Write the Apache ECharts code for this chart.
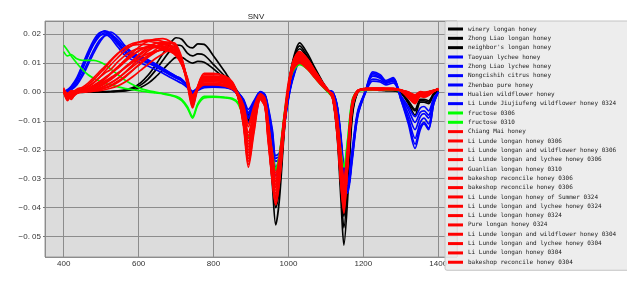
<!DOCTYPE html>
<html>
<head>
<meta charset="utf-8">
<script src="https://cdn.jsdelivr.net/npm/echarts@6/dist/echarts.min.js"></script>
<style>html,body{margin:0;padding:0;background:#fff;}#c{width:627px;height:282px;}</style>
</head>
<body>
<div id="c"></div>
<script>
// wavelength (x) positions shared by all spectra
const wavelengths = [400,410,420,435,450,465,480,495,510,525,
 545,565,585,605,625,645,665,685,700,715,
 730,744,758,775,800,830,850,865,880,893,
 908,925,937,945,957,966,976,988,1000,1012,
 1030,1050,1070,1090,1105,1118,1130,1140,1148,1158,
 1170,1185,1205,1225,1245,1260,1280,1300,1320,1338,
 1352,1362,1374,1388,1400];

// y values are in units of 0.001 (SNV)
const xTickValues = [400,600,800,1000,1200,1400];
const xTickLabels = ['400','600','800','1000','1200','1400'];
const yTickValues = [-50,-40,-30,-20,-10,0,10,20];
const yTickLabels = ['\u22120. 05','\u22120. 04','\u22120. 03','\u22120. 02','\u22120. 01','0. 00','0. 01','0. 02'];

const blackNames = ["winery longan honey","Zhong Liao longan honey","neighbor's longan honey"];
const blackValues = [
[0,-0.5,0.3,0,0,0,0.1,0.1,0.2,0.2, 0.4,0.8,1.6,3.2,5.8,9.3,13.3,17,18.8,18.3, 16,15.3,16.7,16.5,12.5,7,3,0,-3,-8, -4,0,-2,-13,-32,-46,-37,-15,2,11, 17,13.5,8.5,3.8,0.8,-2,-15,-37,-53,-37, -9,0,1,1,0.8,0.6,0.6,0,-3.5,-6.5, -3,-3,-3.5,-0.5,0.5],
[0.2,0,0,0,-0.1,0,0,0.1,0.1,0.2, 0.3,0.6,1.2,2.4,4.5,7.5,11,14.5,16.3,16, 13.5,12.5,13.2,12.8,9.5,5.5,2.2,-0.5,-3.5,-9.5, -5,-0.5,-2.5,-12,-29,-40,-33,-14,1.5,10.5, 16,12.5,8,3.5,0.6,-2,-14,-33,-47,-33, -8,0,1,1,0.8,0.6,0.5,-0.3,-4,-8, -3.5,-3.5,-4,-1,0.5],
[0,0.3,0,0,0,0,0,0,0,0.1, 0.2,0.4,0.8,1.6,3,5.2,7.8,10.5,12,12, 10.8,10,10.6,10.3,8,4.5,1.5,-1,-4,-10, -5.5,-1,-3,-12,-27,-37,-30,-13,1,10, 15,12,7.5,3.2,0.5,-2,-13,-31,-43,-31, -7.5,0,0.8,0.8,0.6,0.5,0.5,-0.2,-3,-6, -2.5,-2.5,-3,-0.5,0.5]
];

const blueNames = ["Taoyuan lychee honey","Zhong Liao lychee honey","Nongcishih citrus honey","Zhenbao pure honey","Hualien wildflower honey","Li Lunde Jiujiufeng wildflower honey 0324"];
const blueValues = [
[0,0.8,2,5,9.5,14,18,20.5,21,19.5, 16.5,13.5,12,11,10,8.8,7.3,5.8,4.8,3.8, 2,-0.5,1,2,2.2,1.8,1,-0.5,-3,-7, -3.5,0,-1,-5,-14,-23,-22,-11,-1.5,5.5, 11,10,6.5,3,0.5,0,-5,-16,-27,-32, -21,-7,0,6.5,5.5,3.5,4.8,-2.5,-11,-19.5, -13,-11,-13,-4,0],
[0.3,0.5,1.5,4,8,12.5,16.5,19.3,20.5,20, 17.3,14.2,12.5,11.5,10.5,9.2,7.8,6.3,5.2,4, 2.2,-0.3,1.2,2.2,2.3,2,1.2,-0.3,-2.5,-6, -3,0.2,-0.8,-4.5,-13,-22,-21,-10,-1,6, 11.5,10,6.5,3,0.7,0,-4.5,-15,-26,-31, -20,-6.5,0.2,6,5,3.5,4.5,-2,-9,-16, -10.5,-9,-11,-3.5,0],
[-0.3,0.3,1,3,6.5,10.5,14.5,17.8,19.5,19.8, 18,15,13,12,11,9.5,8,6.5,5.5,4.3, 2.3,0,1.3,2.3,2.5,2,1.2,-0.5,-3.5,-8.5, -4.5,-0.2,-1.3,-6,-16,-26,-24,-12,-2,5, 10.5,9.5,6,2.5,0.5,0,-5,-17,-29,-34, -23,-8,-0.3,5.5,4.8,3.2,4.2,-1.8,-7.5,-13, -8.5,-7.5,-9,-3,0],
[0,0.2,0.8,2.5,5.5,9.5,13.5,17,19.6,20.8, 19,15.8,13.5,12.3,11.2,9.8,8.2,6.6,5.5,4.5, 2.5,0.3,1.5,2.5,2.6,2.2,1.4,0,-2.8,-7.5, -4,0,-1,-5.5,-15,-24,-23,-11.5,-1.5,5.5, 11,10,6.5,2.8,0.5,0,-5,-16.5,-28,-33, -22,-7.5,0,4.5,4,3,3.8,-1.5,-6,-10.5, -7,-6.5,-8,-2.5,0],
[0.5,0.6,1.8,4.5,9,13.3,17,19.5,20,18.8, 15.5,12.5,11,10,9,7.8,6.5,5,4,3, 1.5,-1,0.5,1.5,1.7,1.5,0.8,-1,-4,-10.5, -5.5,-0.5,-1.8,-7,-18,-29,-26,-13,-2.5,4.5, 10,9,5.5,2.2,0.3,-0.5,-6,-18,-30,-35, -24,-8.5,-0.5,3.8,3.5,2.5,3.2,-1.2,-5,-8.5, -5.5,-5,-6.5,-2,0],
[0,0.4,1.3,3.8,8,12.8,17,20,21.2,20.3, 17,13.8,12.2,11.3,10.2,9,7.5,6,5,4, 2,-0.5,1,2,2.1,1.8,1,-0.5,-3.2,-9, -4.8,-0.3,-1.5,-6.5,-17,-27,-25,-12.5,-2,5, 10.5,9.5,6,2.5,0.4,0,-5.5,-17,-29,-34, -22.5,-7.5,0,7,6,4,5,-2.5,-10,-18, -12,-10.5,-12.5,-4,0]
];

const greenNames = ["fructose 0306","fructose 0310"];
const greenValues = [
[16.2,14.5,12.5,10,7.8,6,4.8,3.8,3,2.5, 1.8,1.2,0.8,0.4,0,-0.3,-0.6,-1.2,-1.8,-3, -5.5,-9,-4.5,-2,-1.8,-2,-2.5,-4,-9,-16, -9,-1.5,-3,-11,-22,-27,-22,-9,1.5,7, 9.5,8,5,2,0,-2,-10,-21,-26,-17, -3,0.3,0.6,0.7,0.7,0.7,0.7,0.5,-0.3,-1.5, -0.3,-0.3,0,0.5,0.8],
[14,12.5,13,11.5,11,11,11,10.5,9.5,8, 6,4,2.5,1.2,0.5,0,-0.5,-1,-1.5,-2.5, -5,-8.5,-4,-1.5,-1.5,-1.8,-2.2,-3.5,-8.5,-15.5, -8.5,-1.2,-2.8,-10.5,-21,-26.5,-21.5,-8.5,2,7.5, 9.8,8.2,5.2,2.2,0.2,-1.8,-9.5,-20.5,-25.5,-16.5, -2.8,0.4,0.7,0.8,0.8,0.8,0.8,0.6,-0.2,-1.3, -0.2,-0.2,0.1,0.6,0.9]
];

const redNames = ["Chiang Mai honey","Li Lunde longan honey 0306","Li Lunde longan and wildflower honey 0306","Li Lunde longan and lychee honey 0306","Guanlian longan honey 0310","bakeshop reconcile honey 0306","bakeshop reconcile honey 0306\u200B","Li Lunde longan honey of Summer 0324","Li Lunde longan and lychee honey 0324","Li Lunde longan honey 0324","Pure longan honey 0324","Li Lunde longan and wildflower honey 0304","Li Lunde longan and lychee honey 0304","Li Lunde longan honey 0304","bakeshop reconcile honey 0304"];
const redValues = [
[0.5,-2,-0.5,1,1.7,3.1,5,7,8.9,11, 13.5,15.3,16.2,16.5,16.4,16,15.4,14.5,13,9.5, 4,-2,1,3.5,3.5,3,1.5,-1.5,-7,-15, -8,-1.5,-3.5,-12,-25,-33,-25,-9,3.5,9, 11.5,9,6,2.5,0.5,-1.5,-11,-26,-34,-21, -3.5,0.5,1,1.2,1,1,1.2,0.8,-0.5,-2, -0.5,-0.5,-0.3,0.5,1],
[0,-1,-2.5,0.5,1.2,2.5,4.2,6.3,8.3,10.6, 13.3,15.6,16.9,17.4,17.5,17.2,16.6,15.5,13.8,10, 3.5,-3.5,1.5,5,5,4.5,2.5,-1.5,-10,-22, -11,-2,-4.5,-14,-29,-37,-29,-12,2,10, 13,10.5,7,3,0.5,-2,-13,-30,-39,-24, -5,0.3,1,1,1.2,1,1,0.5,-1.5,-3, -1,-1.2,-0.8,0.3,1],
[1,-0.5,0,0.5,1,1.9,3.3,5,6.6,7.8, 10.5,12.8,14.4,15.2,15.5,15.4,15,14,12.5,9.5, 4.5,-1.5,1.5,3,3,2.5,1.5,-0.5,-5,-12, -6,-1,-2.5,-10,-22,-29,-23,-10,1.5,8, 10.5,8.5,5.5,2.5,0.5,-1,-9,-22,-31,-20, -4,0.5,1,0.8,0.8,1,0.8,0.6,0,-1.5, 0,-0.2,0,0.6,0.8],
[0,-3,-1,0.3,0.8,1.8,3.2,5,7.2,9.4, 12,14.5,16.4,17.5,18,18,17.5,16.3,14.5,10.5, 3.5,-4.5,2,6,6,5.5,3.5,-1,-11,-25, -13,-2.5,-5,-15,-31,-39,-31,-14,1,10.5, 14,11.5,7.5,3.5,1,-2,-14,-32,-42,-26, -6,0,1.2,1.4,1.3,1.2,1.3,0.5,-1.5,-3.5, -1.5,-1.5,-1,0.3,1.2],
[0.5,-1.5,-0.5,0,0.6,1.3,2.4,3.6,5,6.5, 8.8,11,13,14.6,15.5,16,15.9,15,13.5,10, 4,-2.5,1.5,4,4,3.5,2,-1,-8,-17, -9,-1.5,-3.5,-12,-26,-34,-27,-11,2,9, 12,9.5,6.5,3,0.5,-1.5,-12,-28,-36,-23, -4.5,0.5,0.8,1,1.1,0.9,1,0.7,-0.5,-2, -0.5,-0.7,-0.4,0.4,0.9],
[1,-1,-2,-0.3,0.4,1,2,3.3,4.8,6.3, 8.3,10.6,12.8,14.6,15.9,16.8,17,16.2,14.5,10.5, 4,-3,1.5,4.5,4.5,4,2.5,-1,-9,-20, -10,-2,-4,-13,-28,-36,-28,-11,2.5,9.5, 12.5,10,6.5,3,0.6,-2,-13,-29,-38,-24, -5,0.3,1,1.1,1,1.1,1.1,0.6,-1,-2.5, -1,-1,-0.6,0.4,1],
[0.3,-0.5,0.5,0,0.3,0.8,1.6,2.6,3.8,5, 6.6,8.5,10.4,12,13.3,14.1,14.5,14,12.8,10, 5,-1,1,2.5,2.5,2,1,-0.5,-4.5,-11, -5,-0.5,-2,-9,-21,-28,-22,-9,1,7.5, 10,8,5,2,0.3,-0.5,-8,-21,-30,-19, -3.5,0.5,0.8,0.8,0.7,0.8,0.8,0.6,0,-1, 0.2,0,0.2,0.6,0.8],
[0,-2.5,-1.5,-0.5,0.3,0.9,1.8,3,4.5,6.3, 8.7,11.3,13.8,16,17.6,18.3,18.5,17.5,15.5,11, 3.5,-5,2,6.5,6.5,5.5,3.5,-1.5,-12,-26, -14,-2.5,-5,-16,-31,-39,-31,-14,1.5,10.5, 14,11.5,7.5,3.5,0.8,-2.5,-15,-32,-41,-26, -6,0,1.3,1.3,1.4,1.3,1.2,0.4,-2,-4, -1.5,-1.8,-1.2,0.2,1.2],
[0.5,-1,0,0.2,0.3,0.7,1.3,2.2,3.3,4.6, 6.5,8.8,10.9,13,14.8,15.9,16.5,16.2,14.8,11, 4.5,-2.5,1.5,4,4,3.5,2,-0.5,-7,-16, -8,-1.5,-3,-11,-24,-32,-25,-10,1.5,8.5, 11.5,9,6,2.5,0.5,-1.5,-11,-27,-35,-22, -4,0.5,1,1,0.9,1,1,0.7,-0.5,-2, -0.5,-0.5,-0.3,0.5,1],
[1.5,-1.5,-1,-0.2,0.2,0.5,1,1.8,2.9,4.2, 6.3,8.6,11,13.5,15.5,16.8,17.4,17.2,15.6,11, 4,-4,1.5,5,5,4.5,2.5,-1.5,-10,-21, -11,-2,-4,-13,-27,-35,-28,-12,1,9, 12.5,10,7,3,0.7,-2,-12,-28,-37,-23, -5,0.3,1.1,1.2,1.1,1.1,1.1,0.5,-1.5,-3, -1,-1.3,-0.8,0.3,1.1],
[0,-2,-0.5,0,0.2,0.4,0.8,1.4,2.2,3.2, 4.8,6.8,8.9,10.9,12.7,14,14.8,14.9,13.8,10.5, 4.5,-2,1,3,3,2.5,1.5,-0.5,-6,-14, -7,-1,-3,-10,-23,-30,-24,-10,0.5,8, 11,8.5,5.5,2.5,0.4,-1,-10,-25,-33,-21, -4,0.5,0.9,0.9,0.9,0.9,0.9,0.7,0,-1.5, 0,-0.3,0,0.5,0.9],
[0.5,-0.5,-2,-0.5,0,0.3,0.7,1.2,2,3, 4.8,7,9.5,12,14.2,15.8,16.8,17,15.8,11.5, 4,-3.5,2,5.5,5.5,5,3,-1.5,-11,-23, -12,-2,-4.5,-14,-29,-37,-29,-13,1,10, 13,10.5,7,3,0.7,-2,-13,-31,-40,-25, -5.5,0.2,1.2,1.2,1.2,1.3,1.2,0.5,-1.5,-3, -1,-1.2,-0.8,0.3,1.1],
[0,-1.5,-1,0,0.1,0.3,0.5,0.9,1.5,2.3, 3.8,5.6,7.7,9.8,12,13.8,15.1,15.8,15,11, 4,-3,1.5,4,4,3.5,2,-1,-8.5,-18, -9,-1.5,-3.5,-12,-25,-33,-26,-11,1,9, 12,9.5,6.5,3,0.5,-1.5,-11,-27,-35,-22, -4.5,0.4,1,1,1,1,1,0.6,-1,-2.5, -0.8,-0.8,-0.5,0.4,1],
[1,-2.5,-0.5,-0.3,0,0.2,0.4,0.8,1.3,2, 3.4,5.3,7.6,10,12.5,14.7,16.3,17.2,16.5,12, 4,-4.5,1.5,5,5,4.5,2.5,-1.5,-11,-24, -12,-2,-4.5,-15,-30,-38,-30,-13,1,10, 13.5,11,7,3.2,0.8,-2,-14,-30,-39,-25, -5.5,0.2,1.1,1.2,1.2,1.2,1.1,0.4,-1.8,-3.5, -1.3,-1.5,-1,0.2,1.1],
[0.5,-1,-1.5,0,0,0.1,0.3,0.5,0.8,1.3, 2.2,3.6,5.4,7.5,9.6,11.6,13.3,14.6,14.5,10.5, 2.5,-5.5,1,4.5,4.5,4,2.5,-1,-9,-19, -9.5,-1.5,-3.5,-11,-24,-31,-25,-10,0.5,8, 11,9,6,2.5,0.5,-1.5,-10,-25,-33,-21, -4.5,0.5,1,1,1,1,1,0.7,-0.5,-2, -0.5,-0.6,-0.3,0.5,1]
];

const groups = [
  {names: blackNames, values: blackValues, color: '#000000'},
  {names: blueNames, values: blueValues, color: '#0000ff'},
  {names: greenNames, values: greenValues, color: '#00ff00'},
  {names: redNames, values: redValues, color: '#ff0000'}
];

const series = [];
const legendData = [];
groups.forEach(g => {
  g.names.forEach((name, k) => {
    legendData.push({name: name, icon: 'rect', itemStyle: {color: g.color, borderWidth: 0, borderColor: 'transparent'}});
    series.push({
      type: 'line', name: name,
      data: wavelengths.map((w, i) => [w, g.values[k][i]]),
      showSymbol: false, smooth: 0.3,
      lineStyle: {color: g.color, width: 1.7},
      itemStyle: {color: g.color, borderWidth: 0},
      emphasis: {disabled: true}
    });
  });
});

const chart = echarts.init(document.getElementById('c'), null, {renderer: 'canvas'});
chart.setOption({
  animation: false,
  backgroundColor: '#ffffff',
  title: {
    text: 'SNV', left: 251, top: 8, textAlign: 'center',
    textStyle: {fontSize: 8, fontWeight: 'normal', color: '#222', fontFamily: 'Liberation Sans'}
  },
  grid: {left: 45, top: 21, width: 412, height: 236, show: true, backgroundColor: '#dcdcdc', borderColor: '#9a9a9a', borderWidth: 1},
  xAxis: {
    type: 'value', min: 350, max: 1450, splitNumber: 5,
    axisLine: {show: false},
    axisTick: {show: true, length: 2, lineStyle: {color: '#777'}},
    axisLabel: {
      margin: 3, fontSize: 8, color: '#333', fontFamily: 'Liberation Sans',
      showMinLabel: false, showMaxLabel: false,
      formatter: v => { const i = xTickValues.indexOf(v); return i >= 0 ? xTickLabels[i] : ''; }
    },
    splitLine: {show: true, lineStyle: {color: '#8c8c8c', width: 1}}
  },
  yAxis: {
    type: 'value', min: -57.1, max: 24.6, splitNumber: 8,
    axisLine: {show: false},
    axisTick: {show: true, length: 2, lineStyle: {color: '#777'}},
    axisLabel: {
      margin: 4, fontSize: 8, color: '#333', fontFamily: 'Liberation Sans',
      showMinLabel: false, showMaxLabel: false,
      formatter: v => { const i = yTickValues.findIndex(t => Math.abs(t - v) < 1e-6); return i >= 0 ? yTickLabels[i] : ''; }
    },
    splitLine: {show: true, lineStyle: {color: '#8c8c8c', width: 1}}
  },
  legend: {
    data: legendData, orient: 'vertical', left: 445, top: 21,
    icon: 'rect', itemWidth: 15, itemHeight: 3, itemGap: 1.33,
    itemStyle: {borderWidth: 0, borderColor: 'transparent'},
    lineStyle: {width: 0},
    selectedMode: false,
    padding: [4, 30, 4, 3],
    backgroundColor: 'rgba(234,234,234,0.88)', borderColor: '#c4c4c4', borderWidth: 1, borderRadius: 2,
    textStyle: {fontSize: 6, lineHeight: 8, color: '#222', fontFamily: 'DejaVu Sans Mono'}
  },
  series: series
});
</script>
</body>
</html>
